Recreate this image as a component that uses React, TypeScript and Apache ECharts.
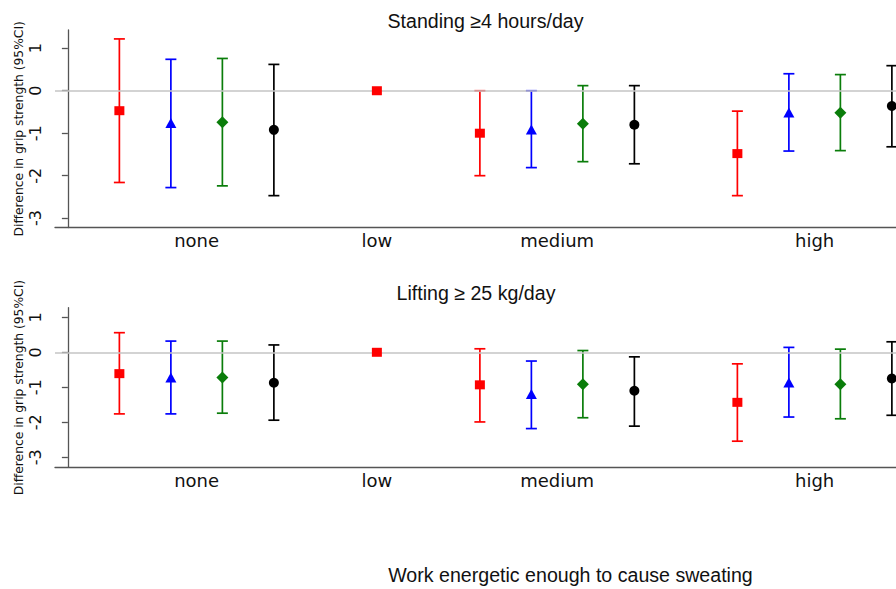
import React, { useEffect, useRef } from "react";
import * as echarts from "echarts";

// Category labels and their positions on the x scale
const categories = ["none", "low", "medium", "high"];
const categoryPos = [2.5, 6, 9.5, 14.5];

// x positions of each model's markers
const redX = [1, 6, 8, 13];
const blueX = [2, 9, 14];
const greenX = [3, 10, 15];
const blackX = [4, 11, 16];

// Panel 1: Standing >=4 hours/day
const p1RedEst = [-0.47, 0, -1.0, -1.48];
const p1RedLo = [-2.16, 0, -2.0, -2.47];
const p1RedHi = [1.22, 0, 0.0, -0.48];
const p1BlueEst = [-0.76, -0.91, -0.51];
const p1BlueLo = [-2.28, -1.81, -1.42];
const p1BlueHi = [0.74, 0.0, 0.4];
const p1GreenEst = [-0.74, -0.78, -0.52];
const p1GreenLo = [-2.24, -1.67, -1.41];
const p1GreenHi = [0.76, 0.12, 0.38];
const p1BlackEst = [-0.92, -0.8, -0.36];
const p1BlackLo = [-2.47, -1.72, -1.32];
const p1BlackHi = [0.62, 0.12, 0.59];

// Panel 2: Lifting >= 25 kg/day
const p2RedEst = [-0.61, 0, -0.93, -1.43];
const p2RedLo = [-1.76, 0, -1.99, -2.54];
const p2RedHi = [0.56, 0, 0.1, -0.33];
const p2BlueEst = [-0.72, -1.19, -0.86];
const p2BlueLo = [-1.76, -2.18, -1.85];
const p2BlueHi = [0.32, -0.25, 0.14];
const p2GreenEst = [-0.72, -0.91, -0.91];
const p2GreenLo = [-1.74, -1.87, -1.9];
const p2GreenHi = [0.32, 0.05, 0.09];
const p2BlackEst = [-0.87, -1.1, -0.75];
const p2BlackLo = [-1.94, -2.11, -1.8];
const p2BlackHi = [0.21, -0.13, 0.3];

const yTicks = [-3, -2, -1, 0, 1];

const RED = "#ff0000";
const BLUE = "#0000ff";
const GREEN = "#0a7d0a";
const BLACK = "#000000";

function errorSeries(xs: number[], lo: number[], hi: number[], color: string, idx: number) {
  const data = xs
    .map((x, i) => [x, lo[i], hi[i]])
    .filter((d) => d[1] !== d[2]);
  return {
    type: "custom",
    xAxisIndex: idx,
    yAxisIndex: idx,
    silent: true,
    z: 3,
    data,
    renderItem: (params: any, api: any) => {
      const x = api.value(0);
      const pLo = api.coord([x, api.value(1)]);
      const pHi = api.coord([x, api.value(2)]);
      const w = 5.5;
      const style = { stroke: color, lineWidth: 1.7 };
      return {
        type: "group",
        children: [
          { type: "line", shape: { x1: pLo[0], y1: pLo[1], x2: pHi[0], y2: pHi[1] }, style },
          { type: "line", shape: { x1: pLo[0] - w, y1: pLo[1], x2: pLo[0] + w, y2: pLo[1] }, style },
          { type: "line", shape: { x1: pHi[0] - w, y1: pHi[1], x2: pHi[0] + w, y2: pHi[1] }, style },
        ],
      };
    },
  };
}

function pointSeries(xs: number[], est: number[], color: string, symbol: string, size: any, idx: number) {
  return {
    type: "scatter",
    xAxisIndex: idx,
    yAxisIndex: idx,
    symbol,
    symbolSize: size,
    itemStyle: { color, opacity: 1 },
    z: 5,
    silent: true,
    data: xs.map((x, i) => [x, est[i]]),
  };
}

function zeroLine(idx: number) {
  return {
    type: "line",
    xAxisIndex: idx,
    yAxisIndex: idx,
    data: [],
    silent: true,
    z: 1,
    markLine: {
      silent: true,
      symbol: "none",
      label: { show: false },
      lineStyle: { color: "#c4c4c4", width: 1.5, type: "solid" },
      data: [{ yAxis: 0 }],
    },
  };
}

const FONT = "DejaVu Sans";
const TITLE_FONT = "Liberation Sans";

function xAxisDef(idx: number) {
  return {
    type: "value",
    gridIndex: idx,
    min: -0.25,
    max: 16.08,
    axisLine: { show: true, onZero: false, lineStyle: { color: "#555", width: 1.3 } },
    axisTick: { show: false },
    splitLine: { show: false },
    axisLabel: {
      show: true,
      customValues: categoryPos,
      formatter: (v: number) => {
        const i = categoryPos.findIndex((p) => Math.abs(p - v) < 1e-6);
        return i >= 0 ? categories[i] : "";
      },
      fontFamily: FONT,
      fontSize: 18,
      color: "#111",
      margin: 4,
    },
  };
}

function yAxisDef(idx: number, min: number, max: number) {
  return {
    type: "value",
    gridIndex: idx,
    min,
    max,
    name: "Difference in grip strength (95%CI)",
    nameLocation: "middle",
    nameGap: 30,
    nameMoveOverlap: false,
    nameTextStyle: { fontFamily: FONT, fontSize: 12.3, color: "#111" },
    axisLine: { show: true, lineStyle: { color: "#555", width: 1.3 } },
    axisTick: { show: true, length: 6, customValues: yTicks, lineStyle: { color: "#555", width: 1.3 } },
    splitLine: { show: false },
    axisLabel: {
      show: true,
      customValues: yTicks,
      rotate: 90,
      fontFamily: FONT,
      fontSize: 16,
      color: "#111",
      margin: 12,
    },
  };
}

export default function App() {
  const ref = useRef<HTMLDivElement>(null);
  useEffect(() => {
    if (!ref.current) return;
    const chart = echarts.init(ref.current, undefined, { renderer: "svg" });
    const option: any = {
      animation: false,
      backgroundColor: "#ffffff",
      grid: [
        { left: 55, top: 30, height: 197.5, right: 0, containLabel: false, outerBoundsMode: "none" },
        { left: 55, top: 307.7, height: 159.6, right: 0, containLabel: false, outerBoundsMode: "none" },
      ],
      xAxis: [xAxisDef(0), xAxisDef(1)],
      yAxis: [yAxisDef(0, -3.22, 1.43), yAxisDef(1, -3.286, 1.274)],
      graphic: [
        {
          type: "text",
          x: 485.5,
          y: 21,
          style: {
            text: "Standing ≥4 hours/day",
            fontFamily: TITLE_FONT,
            fontSize: 19.6,
            fill: "#111",
            textAlign: "center",
            textVerticalAlign: "middle",
          },
        },
        {
          type: "text",
          x: 476,
          y: 293,
          style: {
            text: "Lifting ≥ 25 kg/day",
            fontFamily: TITLE_FONT,
            fontSize: 19.6,
            fill: "#111",
            textAlign: "center",
            textVerticalAlign: "middle",
          },
        },
        {
          type: "text",
          x: 570.5,
          y: 575,
          style: {
            text: "Work energetic enough to cause sweating",
            fontFamily: TITLE_FONT,
            fontSize: 19.6,
            fill: "#111",
            textAlign: "center",
            textVerticalAlign: "middle",
          },
        },
      ],
      series: [
        zeroLine(0),
        zeroLine(1),
        errorSeries(redX, p1RedLo, p1RedHi, RED, 0),
        errorSeries(blueX, p1BlueLo, p1BlueHi, BLUE, 0),
        errorSeries(greenX, p1GreenLo, p1GreenHi, GREEN, 0),
        errorSeries(blackX, p1BlackLo, p1BlackHi, BLACK, 0),
        pointSeries(redX, p1RedEst, RED, "rect", [10, 9], 0),
        pointSeries(blueX, p1BlueEst, BLUE, "triangle", [11, 10], 0),
        pointSeries(greenX, p1GreenEst, GREEN, "diamond", [12, 12], 0),
        pointSeries(blackX, p1BlackEst, BLACK, "circle", 10, 0),
        errorSeries(redX, p2RedLo, p2RedHi, RED, 1),
        errorSeries(blueX, p2BlueLo, p2BlueHi, BLUE, 1),
        errorSeries(greenX, p2GreenLo, p2GreenHi, GREEN, 1),
        errorSeries(blackX, p2BlackLo, p2BlackHi, BLACK, 1),
        pointSeries(redX, p2RedEst, RED, "rect", [10, 9], 1),
        pointSeries(blueX, p2BlueEst, BLUE, "triangle", [11, 10], 1),
        pointSeries(greenX, p2GreenEst, GREEN, "diamond", [12, 12], 1),
        pointSeries(blackX, p2BlackEst, BLACK, "circle", 10, 1),
      ],
    };
    chart.setOption(option);
    return () => chart.dispose();
  }, []);
  return (
    <div
      ref={ref}
      style={{ position: "fixed", left: 0, top: 0, width: 896, height: 589, background: "#fff" }}
    />
  );
}
